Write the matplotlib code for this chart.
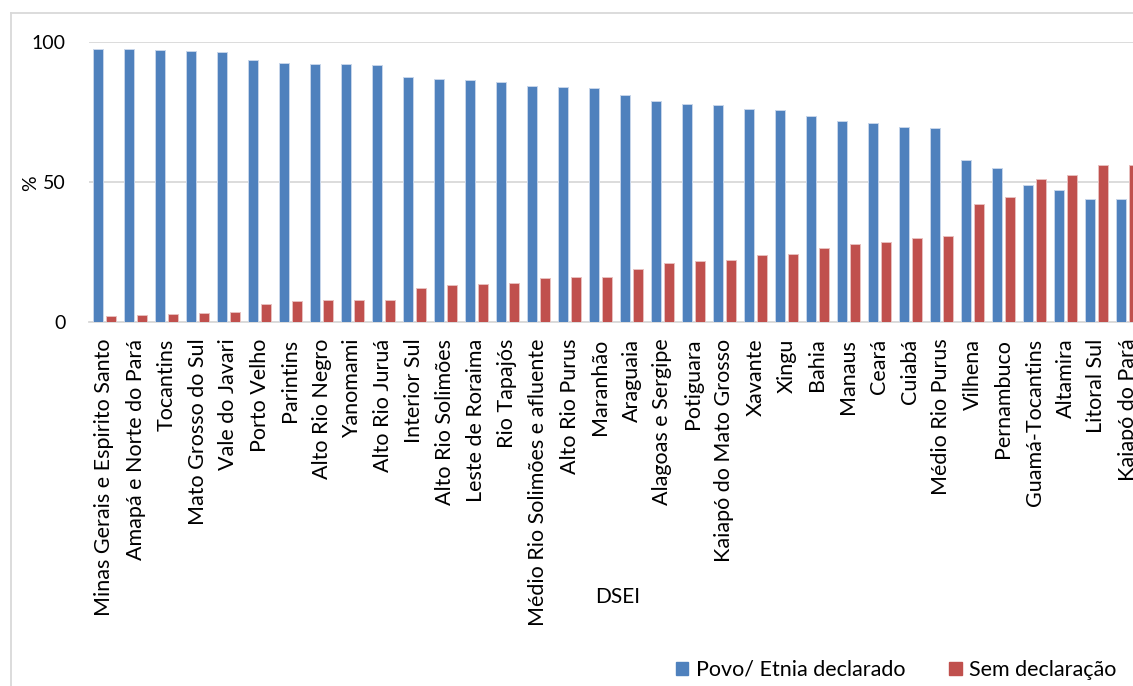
import numpy as np
import matplotlib.pyplot as plt
from matplotlib.lines import Line2D

plt.rcParams['font.family'] = ['Lato', 'DejaVu Sans']

dsei = [
    "Minas Gerais e Espirito Santo", "Amapá e Norte do Pará", "Tocantins",
    "Mato Grosso do Sul", "Vale do Javari", "Porto Velho", "Parintins",
    "Alto Rio Negro", "Yanomami", "Alto Rio Juruá", "Interior Sul",
    "Alto Rio Solimões", "Leste de Roraima", "Rio Tapajós",
    "Médio Rio Solimões e afluente", "Alto Rio Purus", "Maranhão", "Araguaia",
    "Alagoas e Sergipe", "Potiguara", "Kaiapó do Mato Grosso", "Xavante",
    "Xingu", "Bahia", "Manaus", "Ceará", "Cuiabá", "Médio Rio Purus",
    "Vilhena", "Pernambuco", "Guamá-Tocantins", "Altamira", "Litoral Sul",
    "Kaiapó do Pará",
]
declarado = [97.5, 97.4, 97.1, 96.7, 96.3, 93.6, 92.5, 92.3, 92.3, 91.9,
             87.5, 86.7, 86.4, 85.7, 84.3, 83.8, 83.7, 80.9, 78.8, 77.9,
             77.6, 75.9, 75.6, 73.5, 71.8, 71.1, 69.8, 69.3, 57.8, 55.1,
             48.8, 47.3, 44.0, 43.8]
sem_declaracao = [2.3, 2.4, 2.9, 3.2, 3.6, 6.4, 7.5, 7.7, 7.7, 7.8,
                  12.2, 13.2, 13.4, 14.0, 15.6, 16.1, 16.2, 19.0, 21.0, 21.9,
                  22.2, 24.0, 24.3, 26.5, 27.9, 28.7, 30.0, 30.6, 42.1, 44.8,
                  50.9, 52.6, 55.9, 56.1]

BLUE = "#4F81BD"
RED = "#C0504D"
GRID = "#D9D9D9"

W, H = 1133, 686
fig = plt.figure(figsize=(W / 100, H / 100), dpi=100)
ax = fig.add_axes([89 / W, 1 - 322 / H, 1 - 89 / W, 280 / H])

x = np.arange(len(dsei))
ax.bar(x - 0.21, declarado, width=0.32, color=BLUE,
       edgecolor="#C6D5EA", linewidth=0.7, zorder=3)
ax.bar(x + 0.21, sem_declaracao, width=0.32, color=RED,
       edgecolor="#E8BFBE", linewidth=0.7, zorder=3)

ax.set_ylim(0, 100)
ax.set_xlim(-0.5, -0.5 + (W - 89) / 31)
ax.set_yticks([0, 50, 100])
ax.set_yticklabels(["0", "50", "100"], fontsize=14)
ax.yaxis.grid(True, color=GRID, linewidth=1.3, zorder=0)
ax.tick_params(axis="y", length=0, pad=17)
ax.tick_params(axis="x", length=0, pad=12)
ax.set_xticks(x)
ax.set_xticklabels(dsei, rotation=90, fontsize=15.5, va="top", ha="center")
for side in ("top", "right", "left"):
    ax.spines[side].set_visible(False)
ax.spines["bottom"].set_color(GRID)
ax.spines["bottom"].set_linewidth(1.3)

# axis titles
fig.text(31 / W, 1 - 183 / H, "%", fontsize=14, rotation=90,
         ha="center", va="center")
fig.text(618 / W, 1 - 597 / H, "DSEI", fontsize=15, ha="center", va="center")

# chart border (top and left edges)
fig.add_artist(Line2D([11 / W, 1], [1 - 13 / H] * 2, color=GRID, lw=1.3))
fig.add_artist(Line2D([11 / W] * 2, [0, 1 - 13 / H], color=GRID, lw=1.3))

handles = [plt.Rectangle((0, 0), 1, 1, color=BLUE),
           plt.Rectangle((0, 0), 1, 1, color=RED)]
fig.legend(handles, ["Povo/ Etnia declarado", "Sem declaração"],
           loc="center", bbox_to_anchor=(896 / W, 1 - 670 / H), ncol=2,
           frameon=False, fontsize=15.5, handlelength=0.6, handleheight=0.6,
           handletextpad=0.35, columnspacing=2.0)

fig.savefig("out.png", dpi=100)
